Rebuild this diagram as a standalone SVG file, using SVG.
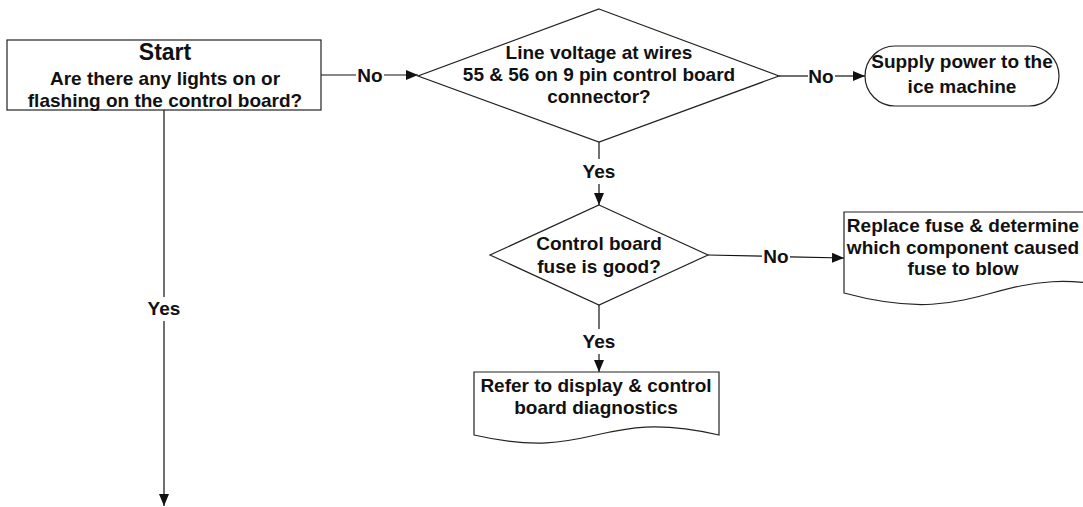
<svg xmlns="http://www.w3.org/2000/svg" width="1083" height="507" viewBox="0 0 1083 507">
<style>
.shape{fill:#fff;stroke:#222;stroke-width:1.2}
.t{font-family:"Liberation Sans",Arial,sans-serif;font-weight:bold;font-size:19px;fill:#111;text-anchor:middle}
.big{font-size:23px}
.c{fill:none;stroke:#111;stroke-width:1.2}
</style>
<defs>
<marker id="ah" markerUnits="userSpaceOnUse" markerWidth="13" markerHeight="11" refX="12" refY="5" orient="auto">
<path d="M0,0 L12,5 L0,10 Z" fill="#111"/>
</marker>
</defs>
<rect width="1083" height="507" fill="#fff"/>
<g id="connectors">
<line class="c" x1="321" y1="75" x2="356" y2="75"/>
<text class="t" x="370" y="82">No</text>
<line class="c" x1="384" y1="75" x2="418" y2="75" marker-end="url(#ah)"/>
<line class="c" x1="779" y1="76" x2="808" y2="76"/>
<text class="t" x="821" y="83">No</text>
<line class="c" x1="835" y1="76" x2="865" y2="76" marker-end="url(#ah)"/>
<line class="c" x1="599" y1="142" x2="599" y2="159"/>
<text class="t" x="599" y="178">Yes</text>
<line class="c" x1="599" y1="184" x2="599" y2="205" marker-end="url(#ah)"/>
<line class="c" x1="708" y1="255" x2="762" y2="256.2"/>
<text class="t" x="776" y="263">No</text>
<line class="c" x1="790" y1="256.8" x2="844" y2="258" marker-end="url(#ah)"/>
<line class="c" x1="599" y1="305" x2="599" y2="329"/>
<text class="t" x="599" y="348">Yes</text>
<line class="c" x1="599" y1="354" x2="599" y2="372" marker-end="url(#ah)"/>
<line class="c" x1="164" y1="110" x2="164" y2="297"/>
<text class="t" x="164" y="315">Yes</text>
<line class="c" x1="164" y1="321" x2="164" y2="506" marker-end="url(#ah)"/>
</g>
<g id="start">
<rect class="shape" x="7" y="40" width="314" height="70"/>
<text class="t big" x="165" y="60">Start</text>
<text class="t" x="165" y="85">Are there any lights on or</text>
<text class="t" x="165" y="107">flashing on the control board?</text>
</g>
<g id="decision-voltage">
<path class="shape" d="M599,9 L779,76 L599,142 L418,76 Z"/>
<text class="t" x="599" y="59">Line voltage at wires</text>
<text class="t" x="599" y="81">55 &amp; 56 on 9 pin control board</text>
<text class="t" x="599" y="103">connector?</text>
</g>
<g id="supply-power">
<rect class="shape" x="865" y="46" width="194" height="60" rx="30" ry="30"/>
<text class="t" x="962" y="68">Supply power to the</text>
<text class="t" x="962" y="93">ice machine</text>
</g>
<g id="decision-fuse">
<path class="shape" d="M599,205 L708,255 L599,305 L490,255 Z"/>
<text class="t" x="599" y="250">Control board</text>
<text class="t" x="599" y="273">fuse is good?</text>
</g>
<g id="replace-fuse">
<path class="shape" d="M844,212 H1140 V293 C992,253 992,333 844,293 Z"/>
<text class="t" x="963" y="232">Replace fuse &amp; determine</text>
<text class="t" x="963" y="254">which component caused</text>
<text class="t" x="963" y="275">fuse to blow</text>
</g>
<g id="diagnostics">
<path class="shape" d="M474,372 H719 V435 C596,407 596,463 474,435 Z"/>
<text class="t" x="596" y="392">Refer to display &amp; control</text>
<text class="t" x="596" y="414">board diagnostics</text>
</g>
</svg>
